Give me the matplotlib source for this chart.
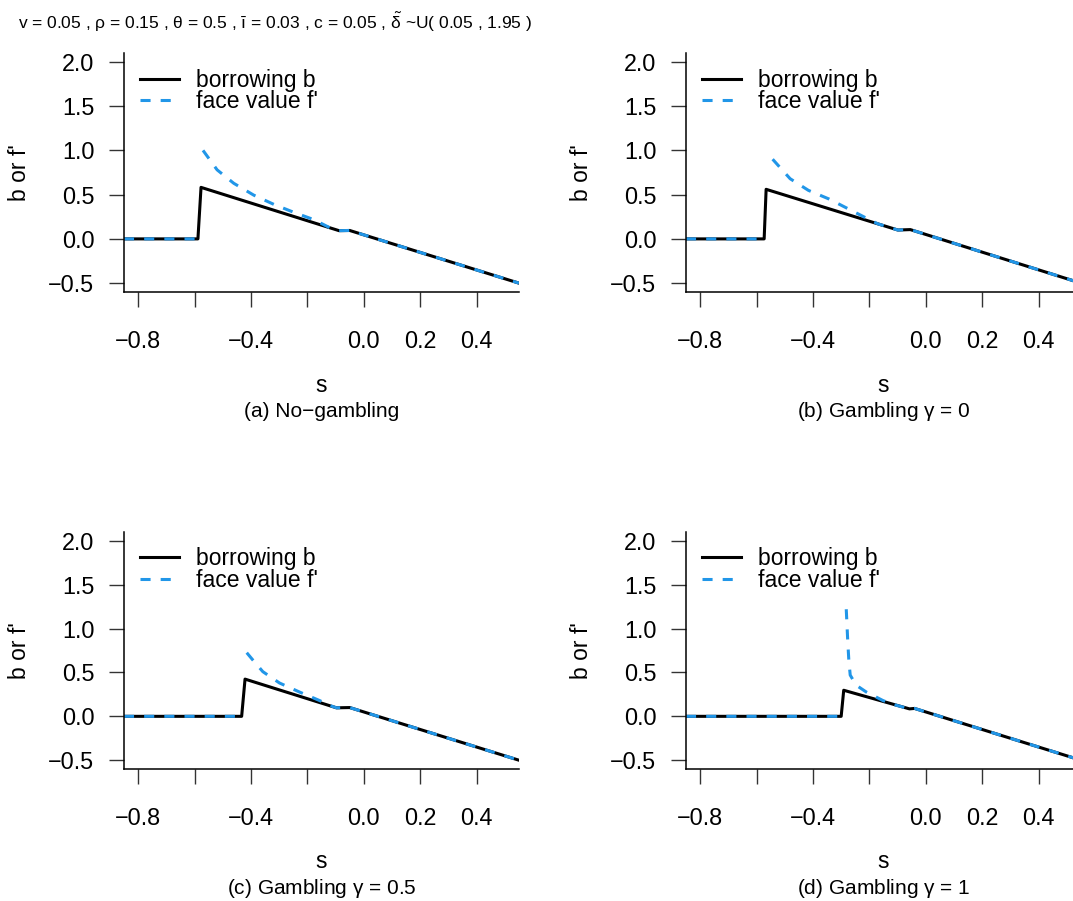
import numpy as np
import matplotlib.pyplot as plt

# R-like look: Helvetica-style text, upright greek in math
plt.rcParams['font.family'] = ['Liberation Sans', 'DejaVu Sans']
plt.rcParams['mathtext.fontset'] = 'custom'
plt.rcParams['mathtext.rm'] = 'Liberation Sans'
plt.rcParams['mathtext.it'] = 'Liberation Sans'
plt.rcParams['axes.unicode_minus'] = True

nan = np.nan

# -----------------------------------------
# Policy curves: borrowing b(s) and face value f'(s)
# -----------------------------------------
# (a) No-gambling
sBorrowA = [-0.85, -0.588, -0.577, -0.088, -0.050, 0.55]
borrowA = [0.0, 0.0, 0.582, 0.093, 0.095, -0.50]
sFaceA = [-0.85, -0.588, nan, -0.570, -0.520, -0.461, -0.390, -0.319, -0.248, -0.177,
          -0.120, -0.088, -0.050, 0.55]
faceA = [0.0, 0.0, nan, 1.00, 0.78, 0.628, 0.494, 0.390, 0.300, 0.217,
         0.125, 0.093, 0.095, -0.50]

# (b) Gambling gamma = 0
sBorrowB = [-0.85, -0.573, -0.566, -0.099, -0.055, 0.55]
borrowB = [0.0, 0.0, 0.560, 0.100, 0.105, -0.50]
sFaceB = [-0.85, -0.573, nan, -0.543, -0.481, -0.416, -0.342, -0.214, -0.170,
          -0.099, -0.055, 0.55]
faceB = [0.0, 0.0, nan, 0.90, 0.680, 0.548, 0.449, 0.240, 0.170,
         0.100, 0.105, -0.50]

# (c) Gambling gamma = 0.5
sBorrowC = [-0.85, -0.433, -0.421, -0.097, -0.050, 0.55]
borrowC = [0.0, 0.0, 0.424, 0.097, 0.100, -0.50]
sFaceC = [-0.85, -0.433, nan, -0.415, -0.394, -0.358, -0.299, -0.228, -0.157,
          -0.120, -0.097, -0.050, 0.55]
faceC = [0.0, 0.0, nan, 0.725, 0.644, 0.509, 0.380, 0.277, 0.180,
         0.123, 0.097, 0.100, -0.50]

# (d) Gambling gamma = 1
sBorrowD = [-0.85, -0.300, -0.291, -0.058, -0.040, 0.55]
borrowD = [0.0, 0.0, 0.297, 0.085, 0.090, -0.50]
sFaceD = [-0.85, -0.300, nan, -0.282, -0.277, -0.273, -0.268, -0.247, -0.211,
          -0.152, -0.120, -0.058, -0.040, 0.55]
faceD = [0.0, 0.0, nan, 1.22, 0.875, 0.644, 0.470, 0.355, 0.277,
         0.180, 0.140, 0.085, 0.090, -0.50]

captions = ["(a) No\u2212gambling", "(b) Gambling $\\gamma$ = 0",
            "(c) Gambling $\\gamma$ = 0.5", "(d) Gambling $\\gamma$ = 1"]

xTicks = [-0.8, -0.6, -0.4, -0.2, 0.0, 0.2, 0.4]
xTickLabels = ["\u22120.8", "", "\u22120.4", "", "0.0", "0.2", "0.4"]
yTicks = [2.0, 1.5, 1.0, 0.5, 0.0, -0.5]
yTickLabels = ["2.0", "1.5", "1.0", "0.5", "0.0", "\u22120.5"]

paramText = ("v = 0.05 , \u03c1 = 0.15 , \u03b8 = 0.5 , \u012b = 0.03 , c = 0.05 , "
             "$\\tilde{\\delta}$ ~U( 0.05 , 1.95 )")

BLUE = "#2196E8"
W, H = 1073, 901


def drawPanel(fig, rect, sB, b, sF, f, caption):
    # rect given in pixels: left, top, width, height
    left, top, width, height = rect
    ax = fig.add_axes([left / W, 1 - (top + height) / H, width / W, height / H])

    ax.plot(sB, b, color="black", lw=2.2, label="borrowing b")
    ax.plot(sF, f, color=BLUE, lw=2.2, ls=(0, (3.3, 3.3)), label="face value f'")

    ax.set_xlim(-0.85, 0.55)
    ax.set_ylim(-0.6, 2.1)
    ax.spines["top"].set_visible(False)
    ax.spines["right"].set_visible(False)
    for side in ["left", "bottom"]:
        ax.spines[side].set_linewidth(1.1)

    ax.set_xticks(xTicks)
    ax.set_xticklabels(xTickLabels)
    ax.set_yticks(yTicks)
    ax.set_yticklabels(yTickLabels)
    ax.tick_params(axis="x", length=10.8, width=1.0, color="#333333", pad=16.5,
                   labelsize=16.8)
    ax.tick_params(axis="y", length=10.8, width=1.0, color="#333333", pad=10.5,
                   labelsize=16.8)

    ax.legend(loc="upper left", bbox_to_anchor=(0.04, 0.935), frameon=False,
              fontsize=16.5, handlelength=1.7, handletextpad=0.74,
              labelspacing=-0.05, borderpad=0, borderaxespad=0)

    # axis titles and caption placed in figure pixels
    cx = (left + width / 2) / W
    bottom = top + height
    fig.text(cx, 1 - (bottom + 93) / H, "s", ha="center", va="center", fontsize=16.5)
    fig.text(cx, 1 - (bottom + 120) / H, caption, ha="center", va="center",
             fontsize=15)
    fig.text((left - 104) / W, 1 - (top + height / 2) / H, "b or f'", rotation=90,
             ha="center", va="center", fontsize=16.5)
    return ax


def main():
    fig = plt.figure(figsize=(W / 100, H / 100), dpi=100)

    panels = [
        ((124, 53, 395, 239), sBorrowA, borrowA, sFaceA, faceA),
        ((686, 53, 395, 239), sBorrowB, borrowB, sFaceB, faceB),
        ((124, 532, 395, 237), sBorrowC, borrowC, sFaceC, faceC),
        ((686, 532, 395, 237), sBorrowD, borrowD, sFaceD, faceD),
    ]
    for (rect, sB, b, sF, f), cap in zip(panels, captions):
        drawPanel(fig, rect, sB, b, sF, f, cap)

    fig.text(18 / W, 1 - 22 / H, paramText, ha="left", va="center", fontsize=12.5)

    fig.savefig("out.png", dpi=100)


if __name__ == "__main__":
    main()
